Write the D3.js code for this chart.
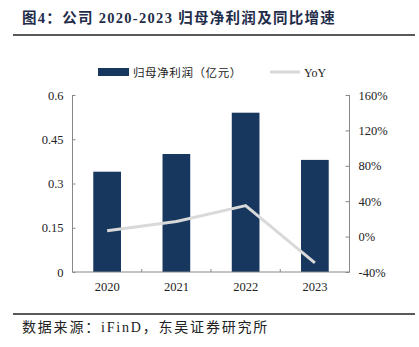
<!DOCTYPE html>
<html><head><meta charset="utf-8">
<script src="https://cdn.jsdelivr.net/npm/d3@7/dist/d3.min.js"></script>
<style>body{margin:0;background:#fff}svg{display:block}</style>
</head><body>
<svg id="c" width="419" height="347"></svg>
<script>
const categories = ["2020","2021","2022","2023"];
const profit = [0.34, 0.40, 0.54, 0.38];
const yoy = [0.065, 0.17, 0.35, -0.296];
const leftTicks = [0, 0.15, 0.3, 0.45, 0.6];
const leftTickLabels = ["0","0.15","0.3","0.45","0.6"];
const rightTicks = [-0.4, 0, 0.4, 0.8, 1.2, 1.6];
const seriesNames = ["归母净利润（亿元）","YoY"];
const titleText = "图4：公司 2020-2023 归母净利润及同比增速";
const sourceText = "数据来源：iFinD，东吴证券研究所";

const svg = d3.select("#c");
const font = "'Liberation Serif','Noto Sans CJK SC',serif";
const L = 72.5, R = 349.5, T = 95, B = 272;
const barColor = "#17375e", lineColor = "#d9d9d9", axisColor = "#888";

// title
svg.append("text").attr("x",22).attr("y",23).text(titleText)
  .attr("font-family",font).attr("font-weight","bold").attr("font-size",14.5)
  .attr("letter-spacing",1.3).attr("fill","#1f2d4a");
svg.append("line").attr("x1",13).attr("x2",415).attr("y1",35).attr("y2",35).attr("stroke","#222").attr("stroke-width",1.5);
svg.append("line").attr("x1",13).attr("x2",415).attr("y1",314).attr("y2",314).attr("stroke","#222").attr("stroke-width",1.5);
svg.append("text").attr("x",22).attr("y",332).text(sourceText)
  .attr("font-family",font).attr("font-size",14).attr("letter-spacing",1.8).attr("fill","#222");

const xc = d3.scaleBand().domain(categories).range([L,R]);
const yL = d3.scaleLinear().domain([0,0.6]).range([B,T]);
const yR = d3.scaleLinear().domain([-0.4,1.6]).range([B,T]);

// bars
svg.append("g").selectAll("rect").data(profit).join("rect")
  .attr("x",(d,i)=>xc(categories[i]) + xc.bandwidth()*0.3)
  .attr("width",xc.bandwidth()*0.4)
  .attr("y",d=>yL(d)).attr("height",d=>B-yL(d)).attr("fill",barColor);

// axes
const gl = svg.append("g").attr("transform",`translate(${L},0)`)
  .call(d3.axisRight(yL).tickValues(leftTicks).tickSize(3).tickFormat((d,i)=>leftTickLabels[i]));
gl.selectAll("text").attr("x",-9).attr("text-anchor","end");
const gr = svg.append("g").attr("transform",`translate(${R},0)`)
  .call(d3.axisLeft(yR).tickValues(rightTicks).tickSize(4).tickFormat(d=>Math.round(d*100)+"%"));
gr.selectAll("text").attr("x",9).attr("text-anchor","start");
const gb = svg.append("g").attr("transform",`translate(0,${B})`)
  .call(d3.axisBottom(xc).tickSize(0));
gb.selectAll(".tick text").attr("dy","1.25em");
// category boundary ticks
svg.append("g").selectAll("line").data(categories.concat(["end"])).join("line")
  .attr("x1",(d,i)=>i<categories.length? xc(d): R).attr("x2",(d,i)=>i<categories.length? xc(d): R)
  .attr("y1",B).attr("y2",B-3).attr("stroke",axisColor);
[gl,gr,gb].forEach(g=>{
  g.selectAll("path").attr("stroke",axisColor);
  g.selectAll("line").attr("stroke",axisColor);
  g.selectAll("text").attr("font-family",font).attr("font-size",12.5).attr("fill","#222");
});
gl.select(".domain").attr("d",`M0,${T}V${B}`);
gr.select(".domain").attr("d",`M0,${T}V${B}`);
gb.select(".domain").attr("d",`M${L},0H${R}`);

// line
const line = d3.line().x((d,i)=>xc(categories[i])+xc.bandwidth()/2).y(d=>yR(d));
svg.append("path").datum(yoy).attr("d",line).attr("fill","none")
  .attr("stroke",lineColor).attr("stroke-width",3).attr("stroke-linejoin","round");

// legend
svg.append("rect").attr("x",98).attr("y",68).attr("width",31).attr("height",8).attr("fill",barColor);
svg.append("text").attr("x",133).attr("y",76.5).text(seriesNames[0])
  .attr("font-family",font).attr("font-size",11.5).attr("letter-spacing",0.6).attr("fill","#222");
svg.append("line").attr("x1",270).attr("x2",300).attr("y1",72).attr("y2",72).attr("stroke",lineColor).attr("stroke-width",3);
svg.append("text").attr("x",304).attr("y",76.5).text(seriesNames[1])
  .attr("font-family",font).attr("font-size",12).attr("fill","#222");
</script>
</body></html>
